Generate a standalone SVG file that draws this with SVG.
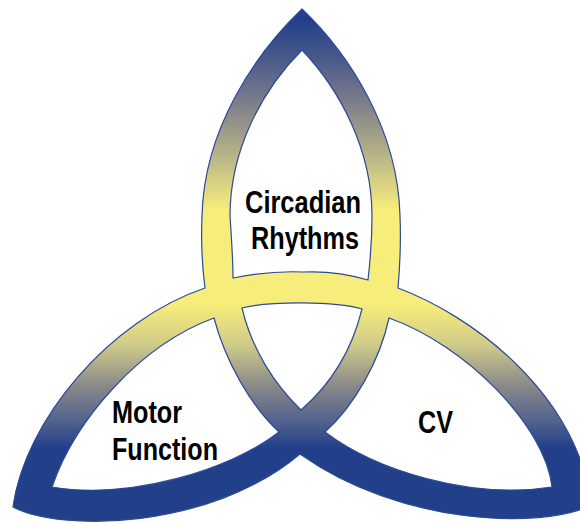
<svg xmlns="http://www.w3.org/2000/svg" width="580" height="522" viewBox="0 0 580 522">
  <defs>
    <linearGradient id="band" gradientUnits="userSpaceOnUse" x1="0" y1="0" x2="0" y2="522">
      <stop offset="0.038" stop-color="#22408a"/>
      <stop offset="0.115" stop-color="#4a5a8a"/>
      <stop offset="0.201" stop-color="#80808a"/>
      <stop offset="0.307" stop-color="#bdb987"/>
      <stop offset="0.402" stop-color="#f7ed7a"/>
      <stop offset="0.584" stop-color="#f7ed7a"/>
      <stop offset="0.661" stop-color="#cfcb8a"/>
      <stop offset="0.738" stop-color="#8a8a88"/>
      <stop offset="0.805" stop-color="#55638e"/>
      <stop offset="0.858" stop-color="#22408a"/>
    </linearGradient>
    <style>
      .band { fill: url(#band); fill-rule: evenodd; stroke: #2a4a9a; stroke-width: 1.2; stroke-linejoin: miter; }
      .lbl { font-family: "Liberation Sans", Arial, sans-serif; font-weight: bold; font-size: 31px; fill: #000; }
    </style>
  </defs>
  <rect width="580" height="522" fill="#ffffff"/>
  <g id="triquetra">
    <path class="band" d="M302,9 C350,55 398,130 400,216 C401,240 400,265 398,288 C470,315 575,390 592,505 C540,530 400,525 300,454 C210,530 60,532 13,507 C25,420 110,320 205,288 C202,265 201,240 202,216 C204,130 254,55 302,9 Z
      M302,50 C340,90 372,150 372,216 C372,245 370,262 368,280 C345,273 325,271 303,272 C280,271 258,273 233,278 C233,262 232,245 230,216 C230,150 262,90 302,50 Z
      M242,308 C270,301 335,301 362,309 C352,350 330,385 301,410 C275,385 252,350 242,308 Z
      M214,318 C225,360 250,405 279,432 C230,470 130,500 52,487 C75,420 140,345 214,318 Z
      M389,318 C380,360 355,405 325,432 C375,470 470,500 552,487 C545,425 465,345 389,318 Z"/>
  </g>
  <g id="circadian-rhythms">
    <text class="lbl" x="245" y="212.5" textLength="116" lengthAdjust="spacingAndGlyphs">Circadian</text>
    <text class="lbl" x="251" y="248.5" textLength="108" lengthAdjust="spacingAndGlyphs">Rhythms</text>
  </g>
  <g id="motor-function">
    <text class="lbl" x="112" y="423" textLength="70" lengthAdjust="spacingAndGlyphs">Motor</text>
    <text class="lbl" x="112" y="459.5" textLength="106" lengthAdjust="spacingAndGlyphs">Function</text>
  </g>
  <g id="cv">
    <text class="lbl" x="418" y="433" textLength="35" lengthAdjust="spacingAndGlyphs">CV</text>
  </g>
</svg>
